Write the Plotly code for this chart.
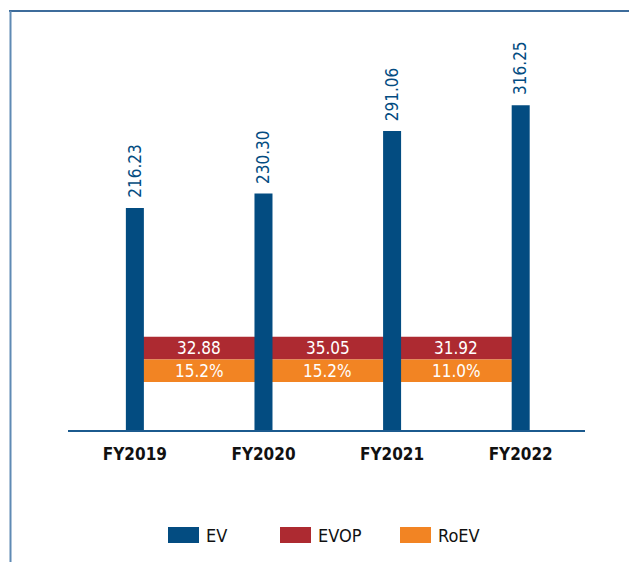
import plotly.graph_objects as go

# Data
years = ["FY2019", "FY2020", "FY2021", "FY2022"]
ev = [216.23, 230.30, 291.06, 316.25]
evop = [32.88, 35.05, 31.92]
evop_labels = ["32.88", "35.05", "31.92"]
roev = [15.2, 15.2, 11.0]
roev_labels = ["15.2%", "15.2%", "11.0%"]

C_EV = "#034c81"
C_EVOP = "#ad2a31"
C_ROEV = "#f28423"
FONT = "DejaVu Sans Condensed, Liberation Sans Narrow, Roboto, sans-serif"

W, H = 629, 562
L, R, T, B = 68, 44, 20, 132
PW, PH = W - L - R, H - T - B

x_pos = list(range(len(years)))
mid_pos = [i + 0.5 for i in range(len(years) - 1)]

# band levels (the ribbons that sit between the EV columns)
ROEV_BASE, BAND_H = 46.7, 22.0
EVOP_BASE = ROEV_BASE + BAND_H

fig = go.Figure()
fig.add_trace(go.Bar(
    x=mid_pos, y=[BAND_H] * len(evop), base=EVOP_BASE, width=1.0,
    marker=dict(color=C_EVOP, line_width=0), name="EVOP",
    customdata=evop, showlegend=False, hoverinfo="skip",
))
fig.add_trace(go.Bar(
    x=mid_pos, y=[BAND_H] * len(roev), base=ROEV_BASE, width=1.0,
    marker=dict(color=C_ROEV, line_width=0), name="RoEV",
    customdata=roev, showlegend=False, hoverinfo="skip",
))
fig.add_trace(go.Bar(
    x=x_pos, y=ev, width=0.14, name="EV",
    marker=dict(color=C_EV, line_width=0),
    showlegend=False,
))

# band labels
for xm, t1, t2 in zip(mid_pos, evop_labels, roev_labels):
    fig.add_annotation(x=xm, y=EVOP_BASE + BAND_H / 2, text=t1, showarrow=False,
                       font=dict(size=17, color="white", family=FONT))
    fig.add_annotation(x=xm, y=ROEV_BASE + BAND_H / 2, text=t2, showarrow=False,
                       font=dict(size=17, color="white", family=FONT))

# rotated value labels above each EV column
for xi, v in zip(x_pos, ev):
    fig.add_annotation(x=xi, y=v, text=f"{v:.2f}", textangle=-90,
                       showarrow=False, xanchor="center", yanchor="bottom",
                       yshift=8, font=dict(size=17, color=C_EV, family=FONT))

y_max = PH / 1.027

fig.update_layout(
    width=W, height=H, barmode="overlay",
    margin=dict(l=L, r=R, t=T, b=B, autoexpand=False),
    paper_bgcolor="white", plot_bgcolor="white",
    xaxis=dict(
        tickmode="array", tickvals=x_pos, ticktext=[f"<b>{y}</b>" for y in years],
        range=[-0.52, 3.5], showgrid=False, zeroline=False,
        showline=True, linecolor="#1b5a8e", linewidth=2,
        tickfont=dict(size=17, color="#111111", family=FONT), ticks="",
        ticklabelstandoff=8,
    ),
    yaxis=dict(range=[0, y_max], visible=False, showgrid=False),
)

def px_x(p):
    return (p - L) / PW

def px_y(p):
    return (H - B - p) / PH

# frame lines along the top and the left edge
fig.add_shape(type="line", xref="paper", yref="paper",
              x0=px_x(9), x1=px_x(W + 2), y0=px_y(11), y1=px_y(11),
              line=dict(color="#3d6c9b", width=2))
fig.add_shape(type="line", xref="paper", yref="paper",
              x0=px_x(10.5), x1=px_x(10.5), y0=px_y(11), y1=px_y(H + 2),
              line=dict(color="#5f8ab4", width=2))

# legend drawn as swatches and labels
legend_items = [("EV", C_EV, 168), ("EVOP", C_EVOP, 280), ("RoEV", C_ROEV, 400)]
for name, color, x0 in legend_items:
    fig.add_shape(type="rect", xref="paper", yref="paper",
                  x0=px_x(x0), x1=px_x(x0 + 31), y0=px_y(527), y1=px_y(543),
                  fillcolor=color, line_width=0)
    fig.add_annotation(xref="paper", yref="paper", x=px_x(x0 + 36), y=px_y(535),
                       text=name, showarrow=False, xanchor="left", yanchor="middle",
                       font=dict(size=18, color="#111111", family=FONT))

fig.write_html("out.html")
